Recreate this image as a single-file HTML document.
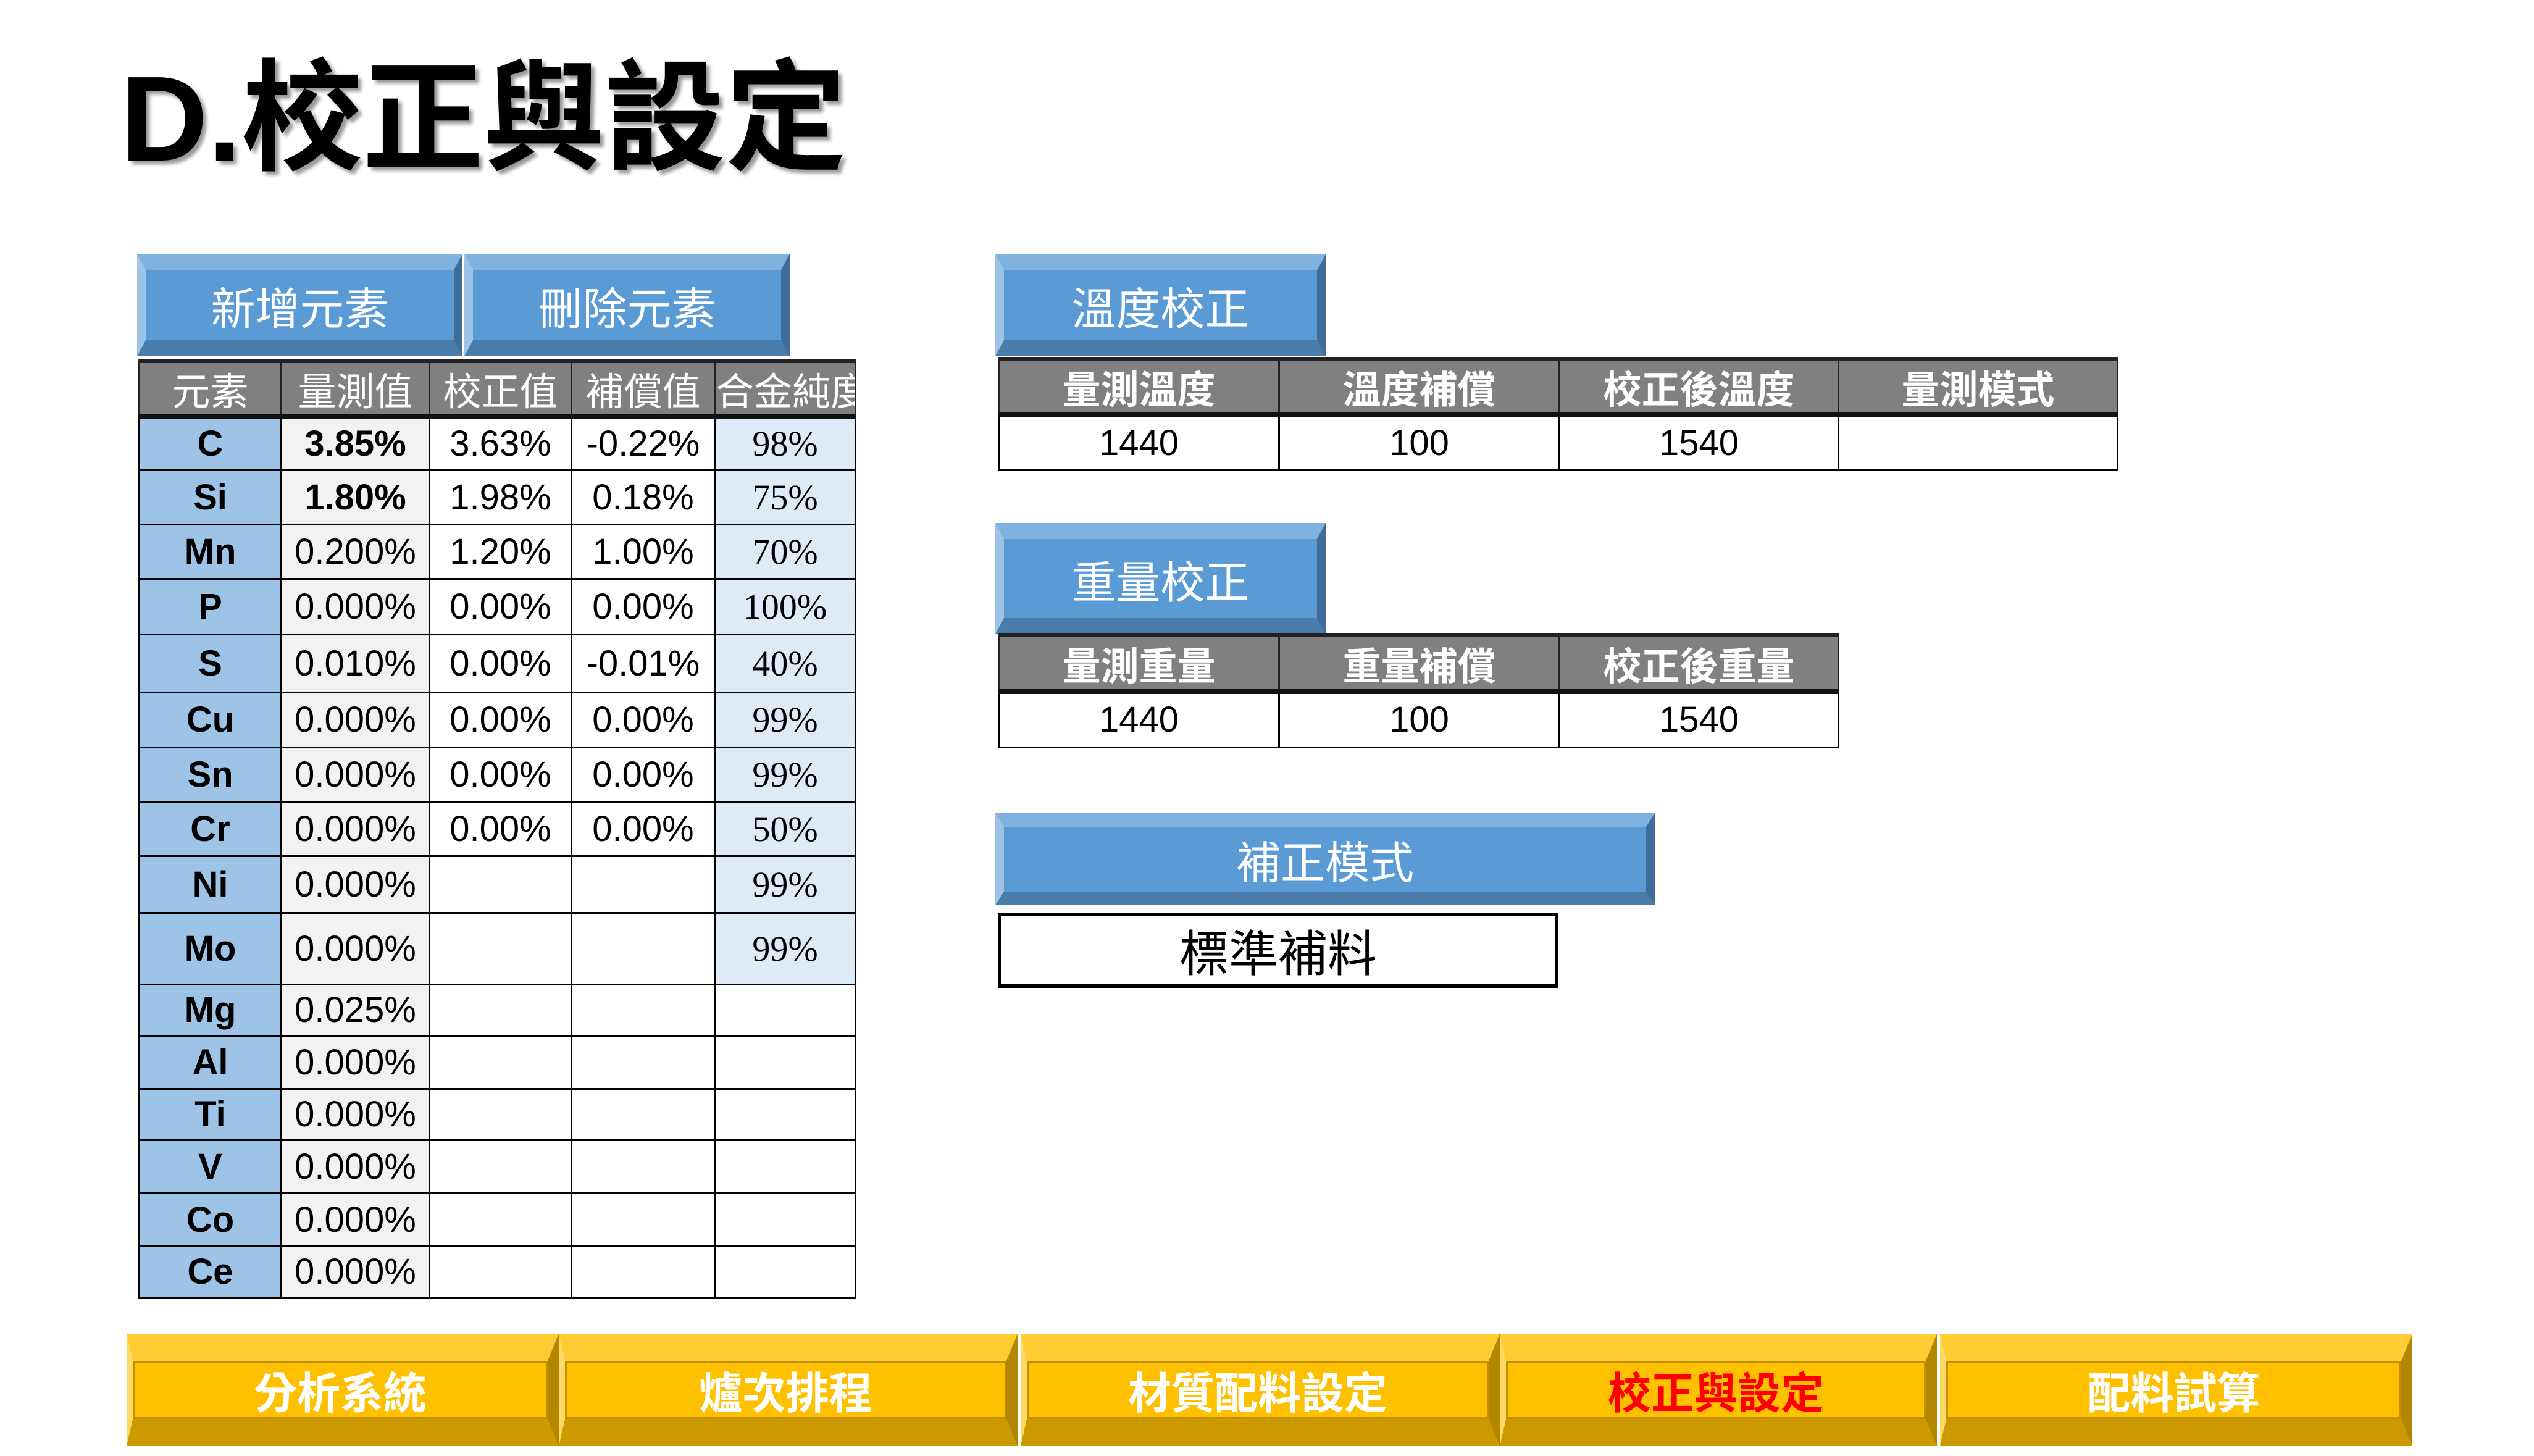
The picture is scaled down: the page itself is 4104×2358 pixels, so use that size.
<!DOCTYPE html>
<html><head><meta charset="utf-8"><style>
*{margin:0;padding:0;box-sizing:border-box}
body{width:4104px;height:2358px;background:#fff;position:relative;overflow:hidden;font-family:"Liberation Sans","Noto Sans CJK TC",sans-serif}
.abs{position:absolute}
.title{left:195px;top:78px;font-size:196px;font-weight:bold;color:#000;line-height:230px;text-shadow:6px 6px 6px #999;letter-spacing:0px}
.bb{position:absolute;background:#5b9bd5;border-style:solid;border-width:26px 14px 26px 14px;border-color:#80b2e0 #3f6c99 #4a7cab #9dc3e6;color:#fff;font-size:72px;display:flex;align-items:center;justify-content:center;font-family:"Noto Sans CJK TC",sans-serif}
.gb{position:absolute;top:2160px;height:182px;background:#ffc000;border-style:solid;border-width:44px 18px 44px 10px;border-color:#ffcc33 #b38600 #cc9900 #ffd966;color:#fff;font-size:70px;font-weight:bold;display:flex;align-items:center;justify-content:center;font-family:"Noto Sans CJK TC",sans-serif;box-shadow:inset 0 0 0 3px #c09000}
table{position:absolute;border-collapse:collapse;table-layout:fixed}
td{border:3px solid #000;text-align:center;font-size:58px;line-height:1;padding:0;overflow:hidden;white-space:nowrap}
th{background:#808080;color:#fff;font-size:62px;font-weight:normal;border:3px solid #222;border-top:7px solid #222;border-bottom:8px solid #111;white-space:nowrap;overflow:hidden;font-family:"Noto Sans CJK TC",sans-serif;padding:0;line-height:1}
.e{background:#9dc3e6;font-weight:bold}
.m{background:#f2f2f2}
.a{background:#deebf7;font-family:"Liberation Serif",serif;font-size:58px}
.rt th{font-weight:bold}
</style></head><body>
<div class="abs title">D.校正與設定</div>

<div class="bb" style="left:222px;top:411px;width:527px;height:166px">新增元素</div>
<div class="bb" style="left:752px;top:411px;width:527px;height:166px">刪除元素</div>

<table style="left:224px;top:581px;width:1160px">
<colgroup><col style="width:230px"><col style="width:240px"><col style="width:230px"><col style="width:232px"><col style="width:228px"></colgroup>
<tr style="height:90px"><th>元素</th><th>量測值</th><th>校正值</th><th>補償值</th><th>合金純度</th></tr>
<tr style="height:87px"><td class="e">C</td><td class="m"><b>3.85%</b></td><td>3.63%</td><td>-0.22%</td><td class="a">98%</td></tr>
<tr style="height:88px"><td class="e">Si</td><td class="m"><b>1.80%</b></td><td>1.98%</td><td>0.18%</td><td class="a">75%</td></tr>
<tr style="height:88px"><td class="e">Mn</td><td class="m">0.200%</td><td>1.20%</td><td>1.00%</td><td class="a">70%</td></tr>
<tr style="height:90px"><td class="e">P</td><td class="m">0.000%</td><td>0.00%</td><td>0.00%</td><td class="a">100%</td></tr>
<tr style="height:94px"><td class="e">S</td><td class="m">0.010%</td><td>0.00%</td><td>-0.01%</td><td class="a">40%</td></tr>
<tr style="height:89px"><td class="e">Cu</td><td class="m">0.000%</td><td>0.00%</td><td>0.00%</td><td class="a">99%</td></tr>
<tr style="height:88px"><td class="e">Sn</td><td class="m">0.000%</td><td>0.00%</td><td>0.00%</td><td class="a">99%</td></tr>
<tr style="height:88px"><td class="e">Cr</td><td class="m">0.000%</td><td>0.00%</td><td>0.00%</td><td class="a">50%</td></tr>
<tr style="height:92px"><td class="e">Ni</td><td class="m">0.000%</td><td></td><td></td><td class="a">99%</td></tr>
<tr style="height:116px"><td class="e">Mo</td><td class="m">0.000%</td><td></td><td></td><td class="a">99%</td></tr>
<tr style="height:83px"><td class="e">Mg</td><td class="m">0.025%</td><td></td><td></td><td></td></tr>
<tr style="height:86px"><td class="e">Al</td><td class="m">0.000%</td><td></td><td></td><td></td></tr>
<tr style="height:83px"><td class="e">Ti</td><td class="m">0.000%</td><td></td><td></td><td></td></tr>
<tr style="height:86px"><td class="e">V</td><td class="m">0.000%</td><td></td><td></td><td></td></tr>
<tr style="height:86px"><td class="e">Co</td><td class="m">0.000%</td><td></td><td></td><td></td></tr>
<tr style="height:83px"><td class="e">Ce</td><td class="m">0.000%</td><td></td><td></td><td></td></tr>
</table>

<div class="bb" style="left:1612px;top:412px;width:535px;height:165px">溫度校正</div>
<table class="rt" style="left:1616px;top:578px;width:1812px">
<colgroup><col style="width:454px"><col style="width:454px"><col style="width:452px"><col style="width:452px"></colgroup>
<tr style="height:90px"><th>量測溫度</th><th>溫度補償</th><th>校正後溫度</th><th>量測模式</th></tr>
<tr style="height:90px"><td>1440</td><td>100</td><td>1540</td><td></td></tr>
</table>

<div class="bb" style="left:1612px;top:847px;width:535px;height:180px">重量校正</div>
<table class="rt" style="left:1616px;top:1025px;width:1360px">
<colgroup><col style="width:454px"><col style="width:454px"><col style="width:452px"></colgroup>
<tr style="height:91px"><th>量測重量</th><th>重量補償</th><th>校正後重量</th></tr>
<tr style="height:91px"><td>1440</td><td>100</td><td>1540</td></tr>
</table>

<div class="bb" style="left:1612px;top:1317px;width:1068px;height:149px;border-width:22px 14px 22px 14px">補正模式</div>
<div class="abs" style="left:1616px;top:1478px;width:908px;height:122px;border:6px solid #000;font-size:80px;display:flex;align-items:center;justify-content:center;font-family:'Noto Sans CJK TC',sans-serif">標準補料</div>

<div class="gb" style="left:205px;width:700px">分析系統</div>
<div class="gb" style="left:905px;width:743px">爐次排程</div>
<div class="gb" style="left:1653px;width:776px">材質配料設定</div>
<div class="gb" style="left:2429px;width:708px;color:#ff0000">校正與設定</div>
<div class="gb" style="left:3142px;width:765px">配料試算</div>
</body></html>
